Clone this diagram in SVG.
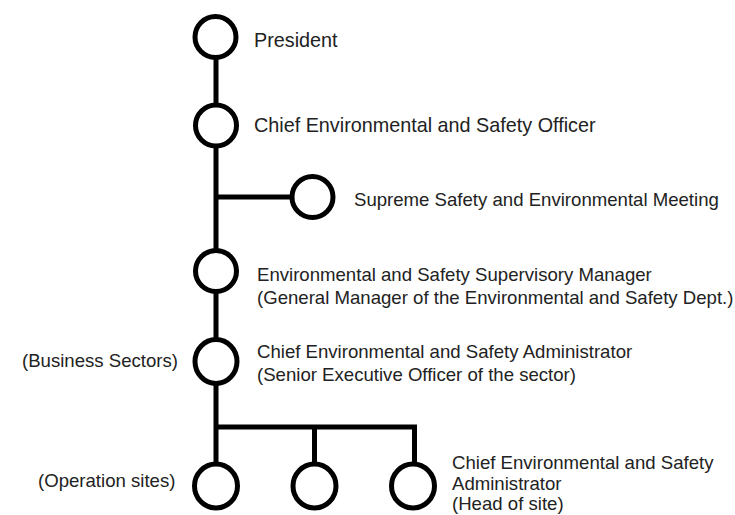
<svg xmlns="http://www.w3.org/2000/svg" width="735" height="515" viewBox="0 0 735 515">
<style>
.n{fill:#fff;stroke:#000;stroke-width:5}
.c{stroke:#000;stroke-width:5;fill:none}
text{font-family:"Liberation Sans",Arial,sans-serif;fill:#222}
.l{font-size:19.8px}
.m{font-size:18.6px}
</style>
<rect width="735" height="515" fill="#fff"/>
<g id="connectors">
<path class="c" d="M216 40V486"/>
<path class="c" d="M216 197H312"/>
<path class="c" d="M216 427H414.5V486"/>
<path class="c" d="M314.5 427V486"/>
</g>
<g id="president"><circle class="n" cx="215.5" cy="37" r="20.5"/><text class="l" x="254" y="47">President</text></g>
<g id="ceso"><circle class="n" cx="216" cy="125.5" r="20.5"/><text class="l" x="254" y="132">Chief Environmental and Safety Officer</text></g>
<g id="meeting"><circle class="n" cx="312.5" cy="197" r="20.5"/><text class="m" x="354" y="206">Supreme Safety and Environmental Meeting</text></g>
<g id="supervisor"><circle class="n" cx="216" cy="271" r="20.5"/><text class="m" x="257" y="281">Environmental and Safety Supervisory Manager</text><text class="m" x="257" y="304">(General Manager of the Environmental and Safety Dept.)</text></g>
<g id="sector"><ellipse class="n" cx="216" cy="361.5" rx="21" ry="22"/><text class="m" x="22" y="367">(Business Sectors)</text><text class="m" x="257" y="358">Chief Environmental and Safety Administrator</text><text class="m" x="257" y="381">(Senior Executive Officer of the sector)</text></g>
<g id="site1"><ellipse class="n" cx="216" cy="486" rx="21.5" ry="22"/><text class="m" x="38" y="487">(Operation sites)</text></g>
<g id="site2"><ellipse class="n" cx="314.5" cy="486" rx="21.5" ry="22"/></g>
<g id="site3"><ellipse class="n" cx="413" cy="486" rx="21.5" ry="22"/><text class="m" x="452" y="469">Chief Environmental and Safety</text><text class="m" x="452" y="490">Administrator</text><text class="m" x="452" y="510">(Head of site)</text></g>
</svg>
